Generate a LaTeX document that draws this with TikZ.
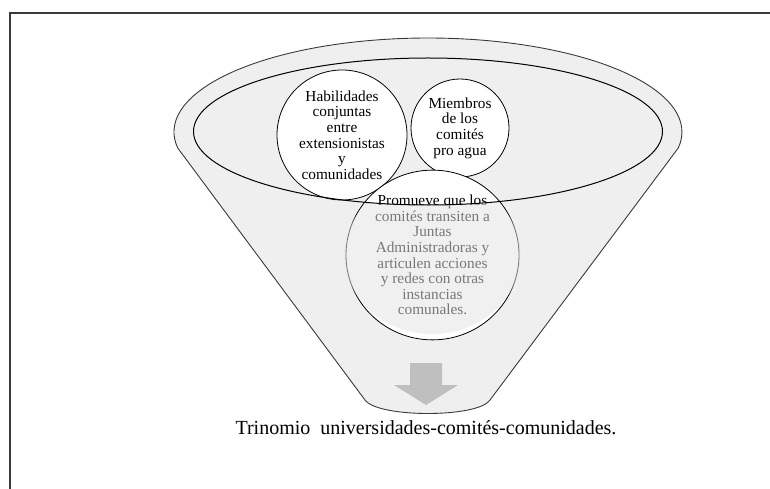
\documentclass[tikz,border=0pt]{standalone}
\usepackage{fontspec}
\setmainfont{Liberation Serif}
\usetikzlibrary{shapes.geometric}
\definecolor{funnelgray}{HTML}{EFEFEF}
\definecolor{arrowgray}{HTML}{BFBFBF}
\definecolor{edgegray}{HTML}{3A3A3A}

\begin{document}
\begin{tikzpicture}[x=1pt, y=-1pt,
  every node/.style={font=\fontsize{15.3}{15.6}\selectfont},
  circ/.style={draw, circle, fill=white, align=center, inner sep=0pt, line width=0.8pt},
  oval/.style={draw, ellipse, fill=white, align=center, inner sep=0pt, line width=0.8pt},
  rim/.style={draw=edgegray, line width=0.9pt},
  lip/.style={draw=black, line width=1pt},
  veil/.style={fill=black!11, fill opacity=0.53},
  frame/.style={draw=edgegray, line width=1.5pt}
]
  \useasboundingbox (0,0) rectangle (770,489);

  % ---- page frame, open to the right and bottom ----
  \draw[frame] (10,489) -- (10,13) -- (770,13);

  % ---- funnel body: outer rim over the top, cone down to the spout ----
  \path[rim, fill=funnelgray] (177.7,148)
    arc[start angle=170.2, end angle=369.8, x radius=254, y radius=94]
    -- (490,400) .. controls (478,418) and (378,418) .. (365,400) -- cycle;

  % ---- the three circles ----
  \node[circ, minimum size=130pt] (hab) at (342,135)
    {Habilidades\\conjuntas\\entre\\extensionistas\\y\\comunidades};
  \node[circ, minimum size=98pt]  (miem) at (460,128)
    {Miembros\\de los\\comités\\pro agua};
  \node[oval, minimum width=173pt, minimum height=154pt] (prom) at (432.5,255)
    {Promueve que los\\comités transiten a\\Juntas\\Administradoras y\\articulen acciones\\y redes con otras\\instancias\\comunales.};

  % ---- lower part of prom sits inside the cone ----
  \begin{scope}
    \clip (prom.center) ellipse[x radius=88, y radius=79];
    \fill[veil, even odd rule] (300,150) rectangle (560,350)
      (428,131.5) ellipse[x radius=234.5, y radius=73.5];
  \end{scope}

  % ---- inner lip of the funnel ----
  \draw[lip] (428,131.5) ellipse[x radius=234.5, y radius=73.5];

  % ---- spout arrow and result ----
  \fill[arrowgray] (410,363) -- (442,363) -- (442,385) -- (458,385)
    -- (426,405) -- (394,385) -- (410,385) -- cycle;
  \node[font=\fontsize{20}{22}\selectfont, anchor=base west] (trin) at (232,434)
    {Trinomio\ \ universidades-comités-comunidades.};
\end{tikzpicture}
\end{document}
